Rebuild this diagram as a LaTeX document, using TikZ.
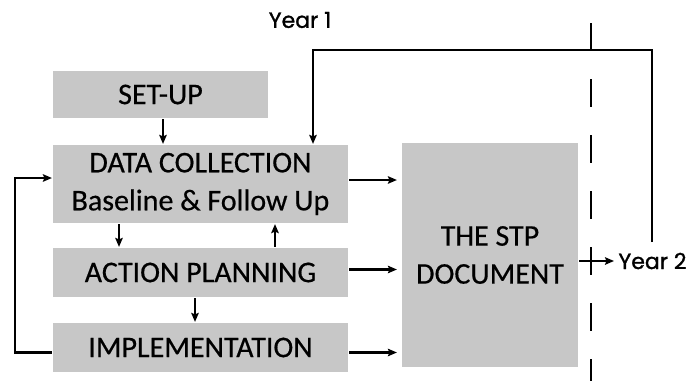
\documentclass[tikz,border=0pt]{standalone}
\usepackage{fontspec}
\setmainfont{Carlito}[FakeBold=0.5]
\newfontfamily\yearfont{Poppins}[FakeBold=1.2]
\usetikzlibrary{positioning, calc, arrows.meta}

\begin{document}
\begin{tikzpicture}[x=1pt, y=-1pt, ->, >={Stealth[length=9pt, width=7.5pt, inset=1.5pt]}, line width=2.2pt,
    stage/.style={draw=none, fill=black!22, align=center, inner sep=0pt,
      font=\fontsize{30}{38}\selectfont},
    yearlbl/.style={font=\yearfont\fontsize{22}{26}\selectfont}]

  \useasboundingbox (0,0) rectangle (694,381);

  % stages on the left
  \node[stage, minimum width=215, minimum height=47] (setup) at (160.5,94.5) {SET-UP};
  \node[stage, minimum width=295, minimum height=78] (data) at (200.5,184) {DATA COLLECTION\\Baseline \& Follow Up};
  \node[stage, minimum width=295, minimum height=49] (plan) at (200.5,272.5) {ACTION PLANNING};
  \node[stage, minimum width=295, minimum height=49] (impl) at (200.5,347.5) {IMPLEMENTATION};

  % the document
  \node[stage, minimum width=176, minimum height=224] (stp) at (490,255) {THE STP\\DOCUMENT};

  \node[yearlbl] (y1) at (300,20) {Year 1};
  \node[yearlbl, anchor=west] (y2) at (614,261) {Year 2};

  \coordinate (cut top) at (591,23);
  \coordinate (cut bot) at (591,381);
  \coordinate (back) at (652,242);

  \path[-, draw, line width=1.6pt, dash pattern=on 28pt off 28pt] (cut top) -- (cut bot);

  \draw (setup.south -| 163,0) -- (data.north -| 163,0);
  \draw (data.south -| 119,0) -- (plan.north -| 119,0);
  \draw (plan.north -| 275,0) -- (data.south -| 275,0);
  \draw (plan.south -| 195,0) -- (impl.north -| 195,0);

  \draw[shorten >=4pt] ([yshift=4pt]data.east) -- ([yshift=4pt]data.east -| stp.west);
  \draw[shorten >=4pt] ([yshift=3pt]plan.east) -- ([yshift=3pt]plan.east -| stp.west);
  \draw[shorten >=4pt] ([yshift=-5pt]impl.east) -- ([yshift=-5pt]impl.east -| stp.west);

  \draw ([yshift=-5pt]impl.west) -| (15,178) -- (data.west |- 0,178);
  \draw (back) -- (652,50) -| (data.north -| 313,0);
  \draw (stp.east |- y2.west) -- (y2.west);
\end{tikzpicture}
\end{document}
